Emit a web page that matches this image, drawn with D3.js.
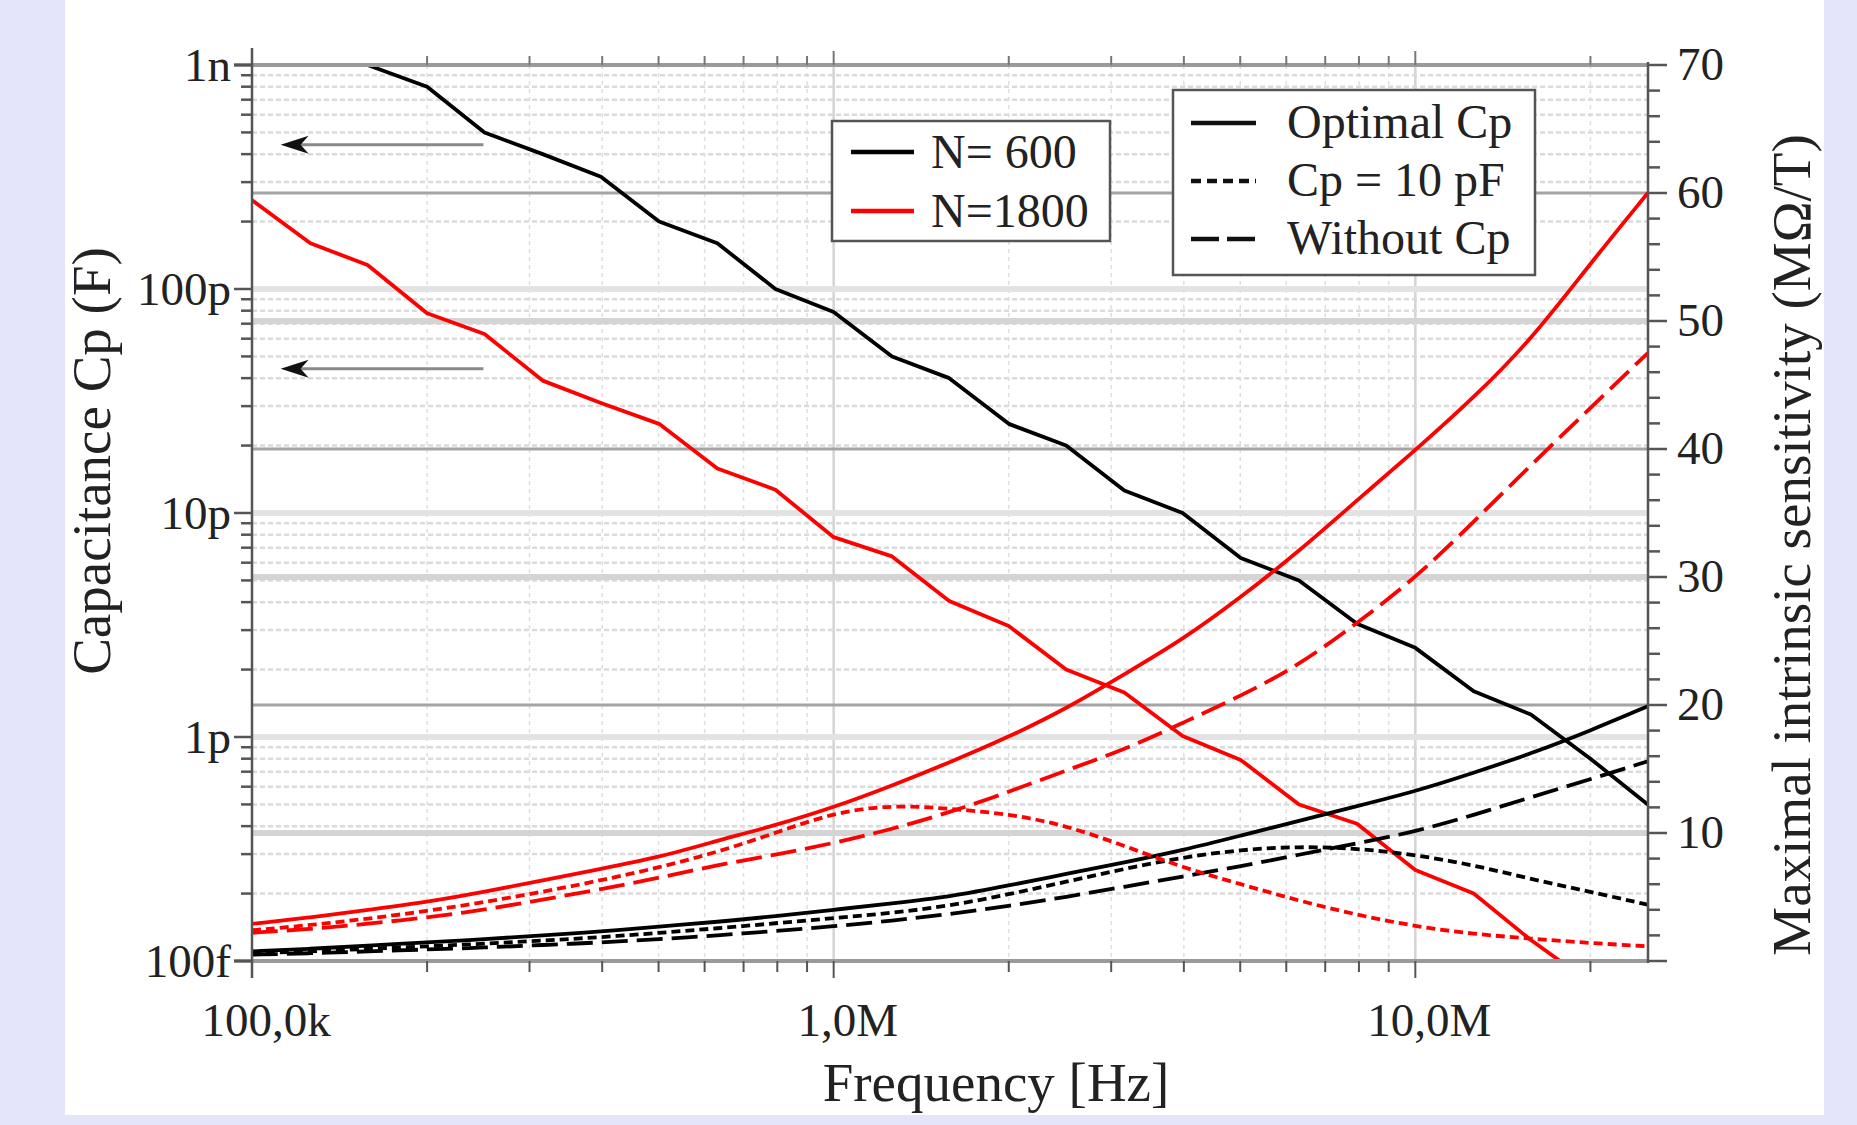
<!DOCTYPE html>
<html><head><meta charset="utf-8">
<script src="https://cdn.jsdelivr.net/npm/d3@7"></script>
<style>
html,body{margin:0;padding:0;background:#e4e4fa;}
svg{display:block;}
text{font-family:"Liberation Serif","Times New Roman",serif;fill:#222;}
</style></head><body>
<svg id="chart" width="1857" height="1125"></svg>
<script>
// ---------- DATA ----------
const freqs = [1.00e5,1.26e5,1.58e5,2.00e5,2.51e5,3.16e5,3.98e5,5.01e5,6.31e5,7.94e5,
               1.00e6,1.26e6,1.58e6,2.00e6,2.51e6,3.16e6,3.98e6,5.01e6,6.31e6,7.94e6,
               1.00e7,1.26e7,1.58e7,2.00e7,2.51e7];
// Optimal Cp (pF), left axis
const cpOpt600  = [null,null,1000,800,500,400,317,200,160,100,79,50,40,25,20,12.6,10,6.3,5,3.2,2.5,1.6,1.26,0.8,0.5];
const cpOpt1800 = [249,160,128,78,63,39,31,25,15.8,12.7,7.8,6.4,4.05,3.13,2.0,1.58,1.01,0.79,0.5,0.41,0.255,0.2,0.124,0.08,null];
// Maximal intrinsic sensitivity (MOhm/T), right axis
const sensOpt600   = [0.75,0.95,1.2,1.45,1.7,2.0,2.3,2.7,3.05,3.5,4.0,4.5,5.0,5.9,6.8,7.7,8.65,9.8,10.95,12.1,13.25,14.7,16.2,18.0,19.9];
const sensCp10_600 = [0.6,0.75,0.95,1.15,1.35,1.6,1.85,2.2,2.55,2.95,3.35,3.75,4.3,5.2,6.2,7.2,8.1,8.7,8.95,8.8,8.3,7.5,6.4,5.4,4.4];
const sensNo600    = [0.5,0.6,0.75,0.9,1.05,1.25,1.45,1.7,2.0,2.35,2.7,3.15,3.65,4.3,5.0,5.8,6.6,7.4,8.3,9.2,10.1,11.4,12.8,14.2,15.6];
const sensOpt1800   = [2.9,3.4,4.0,4.6,5.4,6.3,7.2,8.1,9.4,10.6,12.0,13.7,15.5,17.5,19.7,22.4,25.1,28.4,32.0,36.0,39.9,44.0,48.5,54.5,60.0];
const sensCp10_1800 = [2.4,2.8,3.3,3.9,4.6,5.4,6.3,7.3,8.5,10.0,11.6,12.2,11.9,11.5,10.6,9.0,7.3,6.0,4.7,3.6,2.7,2.1,1.75,1.4,1.15];
const sensNo1800    = [2.2,2.5,2.9,3.4,4.0,4.8,5.6,6.5,7.5,8.3,9.2,10.3,11.6,13.2,14.9,16.5,18.6,20.7,23.1,26.4,29.9,34.3,38.75,43.2,47.5];

const xTickValues = [1e5,1e6,1e7];
const xTickLabels = ["100,0k","1,0M","10,0M"];
const yLTickValues = [1e-13,1e-12,1e-11,1e-10,1e-9];
const yLTickLabels = ["100f","1p","10p","100p","1n"];
const yRTickValues = [10,20,30,40,50,60,70];
const yRTickLabels = ["10","20","30","40","50","60","70"];

const legendN = [{label:"N= 600", color:"#000"},{label:"N=1800", color:"#ff0000"}];
const legendStyle = [{label:"Optimal Cp", dash:null},{label:"Cp = 10 pF", dash:"10,6"},{label:"Without Cp", dash:"28,8"}];
const arrowLevels = [440e-12, 44e-12]; // arrows pointing to left axis
const arrowFreqs = [2.5e5, 1.12e5];

// ---------- SCALES ----------
const svg = d3.select('#chart');
svg.append('rect').attr('x',65).attr('y',0).attr('width',1759).attr('height',1115).attr('fill','#fff');

const L=252, R=1648, T=65, B=961;
const x = d3.scaleLog().domain([1e5, 2.512e7]).range([L,R]);
const yL = d3.scaleLog().domain([1e-13,1e-9]).range([B,T]);
const yR = d3.scaleLinear().domain([0,70]).range([B,T]);
const isDecade = v => Math.abs(Math.log10(v)-Math.round(Math.log10(v)))<1e-6;

// ---------- GRID ----------
const grid = svg.append('g');
const xt = x.ticks();
xt.forEach(v=>{
  if (v<=1e5) return;
  if (isDecade(v)) {
    grid.append('line').attr('x1',x(v)).attr('x2',x(v)).attr('y1',T).attr('y2',B).attr('stroke','#d4d4d4').attr('stroke-width',2.5);
  } else {
    grid.append('line').attr('x1',x(v)).attr('x2',x(v)).attr('y1',T).attr('y2',B).attr('stroke','#dedede').attr('stroke-width',1.5).attr('stroke-dasharray','4,4');
  }
});
const ylt = yL.ticks();
ylt.forEach(v=>{
  if (isDecade(v)) {
    if (v>1e-13 && v<1e-9) grid.append('line').attr('x1',L).attr('x2',R).attr('y1',yL(v)).attr('y2',yL(v)).attr('stroke','#e3e3e3').attr('stroke-width',6);
  } else {
    grid.append('line').attr('x1',L).attr('x2',R).attr('y1',yL(v)).attr('y2',yL(v)).attr('stroke','#dadada').attr('stroke-width',2.5).attr('stroke-dasharray','5,3');
  }
});
yRTickValues.forEach(v=>{
  if (v>=70) return;
  if (v%20===0) grid.append('line').attr('x1',L).attr('x2',R).attr('y1',yR(v)).attr('y2',yR(v)).attr('stroke','#a4a4a4').attr('stroke-width',3);
  else grid.append('line').attr('x1',L).attr('x2',R).attr('y1',yR(v)).attr('y2',yR(v)).attr('stroke','#d4d4d4').attr('stroke-width',6);
});

// ---------- CURVES ----------
svg.append('clipPath').attr('id','plotclip').append('rect').attr('x',L).attr('y',T-2).attr('width',R-L).attr('height',B-T+2);
const plot = svg.append('g').attr('clip-path','url(#plotclip)');
function drawSeries(vals, yScale, mult, color, dash, curve){
  const data = freqs.map((f,i)=>({f, v: vals[i]}));
  const line = d3.line().defined(d=>d.v!=null).x(d=>x(d.f)).y(d=>yScale(d.v*mult)).curve(curve);
  plot.append('path').datum(data).attr('d',line).attr('fill','none').attr('stroke',color)
    .attr('stroke-width',3.8).attr('stroke-dasharray',dash).attr('stroke-linejoin','round');
}
drawSeries(cpOpt600, yL, 1e-12, '#000', null, d3.curveLinear);
drawSeries(cpOpt1800, yL, 1e-12, '#ff0000', null, d3.curveLinear);
drawSeries(sensOpt600, yR, 1, '#000', null, d3.curveBasis);
drawSeries(sensCp10_600, yR, 1, '#000', '9,5', d3.curveBasis);
drawSeries(sensNo600, yR, 1, '#000', '26,9', d3.curveBasis);
drawSeries(sensOpt1800, yR, 1, '#ff0000', null, d3.curveBasis);
drawSeries(sensCp10_1800, yR, 1, '#ff0000', '9,5', d3.curveBasis);
drawSeries(sensNo1800, yR, 1, '#ff0000', '26,9', d3.curveBasis);

// ---------- AXES ----------
const ax = svg.append('g');
ax.append('line').attr('x1',234).attr('x2',R).attr('y1',T).attr('y2',T).attr('stroke','#9a9a9a').attr('stroke-width',4);
ax.append('line').attr('x1',234).attr('x2',R).attr('y1',B).attr('y2',B).attr('stroke','#9a9a9a').attr('stroke-width',4);
xt.forEach(v=>{
  const maj = isDecade(v);
  ax.append('line').attr('x1',x(v)).attr('x2',x(v)).attr('y1',B).attr('y2',B+(maj?17:11)).attr('stroke','#555').attr('stroke-width',2);
  ax.append('line').attr('x1',x(v)).attr('x2',x(v)).attr('y1',T).attr('y2',T-(maj?14:9)).attr('stroke','#777').attr('stroke-width',2);
});
ax.append('line').attr('x1',L).attr('x2',L).attr('y1',48).attr('y2',978).attr('stroke','#555').attr('stroke-width',2.5);
ylt.forEach(v=>{
  const maj=isDecade(v);
  ax.append('line').attr('x1',L-(maj?18:11)).attr('x2',L).attr('y1',yL(v)).attr('y2',yL(v)).attr('stroke','#555').attr('stroke-width',2.5);
});
ax.append('line').attr('x1',R).attr('x2',R).attr('y1',62).attr('y2',963).attr('stroke','#555').attr('stroke-width',2.5);
yR.ticks(35).forEach(v=>{
  const maj = v%10===0;
  ax.append('line').attr('x1',R).attr('x2',R+(maj?19:12)).attr('y1',yR(v)).attr('y2',yR(v)).attr('stroke','#555').attr('stroke-width',2.5);
});
yLTickValues.forEach((v,i)=>{
  ax.append('text').attr('x',231).attr('y',yL(v)).attr('dy','0.34em').attr('text-anchor','end').attr('font-size',47).text(yLTickLabels[i]);
});
yRTickValues.forEach((v,i)=>{
  ax.append('text').attr('x',1677).attr('y',yR(v)).attr('dy','0.32em').attr('text-anchor','start').attr('font-size',47).text(yRTickLabels[i]);
});
xTickValues.forEach((v,i)=>{
  ax.append('text').attr('x',x(v)+14).attr('y',1036).attr('text-anchor','middle').attr('font-size',47).text(xTickLabels[i]);
});
ax.append('text').attr('x',996).attr('y',1101).attr('text-anchor','middle').attr('font-size',55).text('Frequency [Hz]');
ax.append('text').attr('transform','translate(110,461) rotate(-90)').attr('text-anchor','middle').attr('font-size',55).text('Capacitance Cp (F)');
ax.append('text').attr('transform','translate(1810,545) rotate(-90)').attr('text-anchor','middle').attr('font-size',55).text('Maximal intrinsic sensitivity (M\u03A9/T)');

// ---------- ARROWS ----------
arrowLevels.forEach(c=>{
  const y = yL(c), x0 = x(arrowFreqs[0]), tip = x(arrowFreqs[1]);
  svg.append('line').attr('x1',tip+20).attr('x2',x0).attr('y1',y).attr('y2',y).attr('stroke','#8a8a8a').attr('stroke-width',3);
  svg.append('path').attr('d',`M${tip},${y} L${tip+28},${y-9} L${tip+20},${y} L${tip+28},${y+9} Z`).attr('fill','#111');
});

// ---------- LEGENDS ----------
const lg1 = svg.append('g');
lg1.append('rect').attr('x',832).attr('y',121).attr('width',278).attr('height',120).attr('fill','#fff').attr('stroke','#555').attr('stroke-width',2.5);
legendN.forEach((d,i)=>{
  const yy = 152 + i*59;
  lg1.append('line').attr('x1',851).attr('x2',914).attr('y1',yy).attr('y2',yy).attr('stroke',d.color).attr('stroke-width',4.5);
  lg1.append('text').attr('x',931).attr('y',yy+16).attr('font-size',48).text(d.label);
});
const lg2 = svg.append('g');
lg2.append('rect').attr('x',1173).attr('y',90).attr('width',362).attr('height',185).attr('fill','#fff').attr('stroke','#555').attr('stroke-width',2.5);
legendStyle.forEach((d,i)=>{
  const yy = 123 + i*58;
  lg2.append('line').attr('x1',1191).attr('x2',1256).attr('y1',yy).attr('y2',yy).attr('stroke','#111').attr('stroke-width',4.5).attr('stroke-dasharray',d.dash);
  lg2.append('text').attr('x',1287).attr('y',yy+15).attr('font-size',48).text(d.label);
});
</script>
</body></html>
